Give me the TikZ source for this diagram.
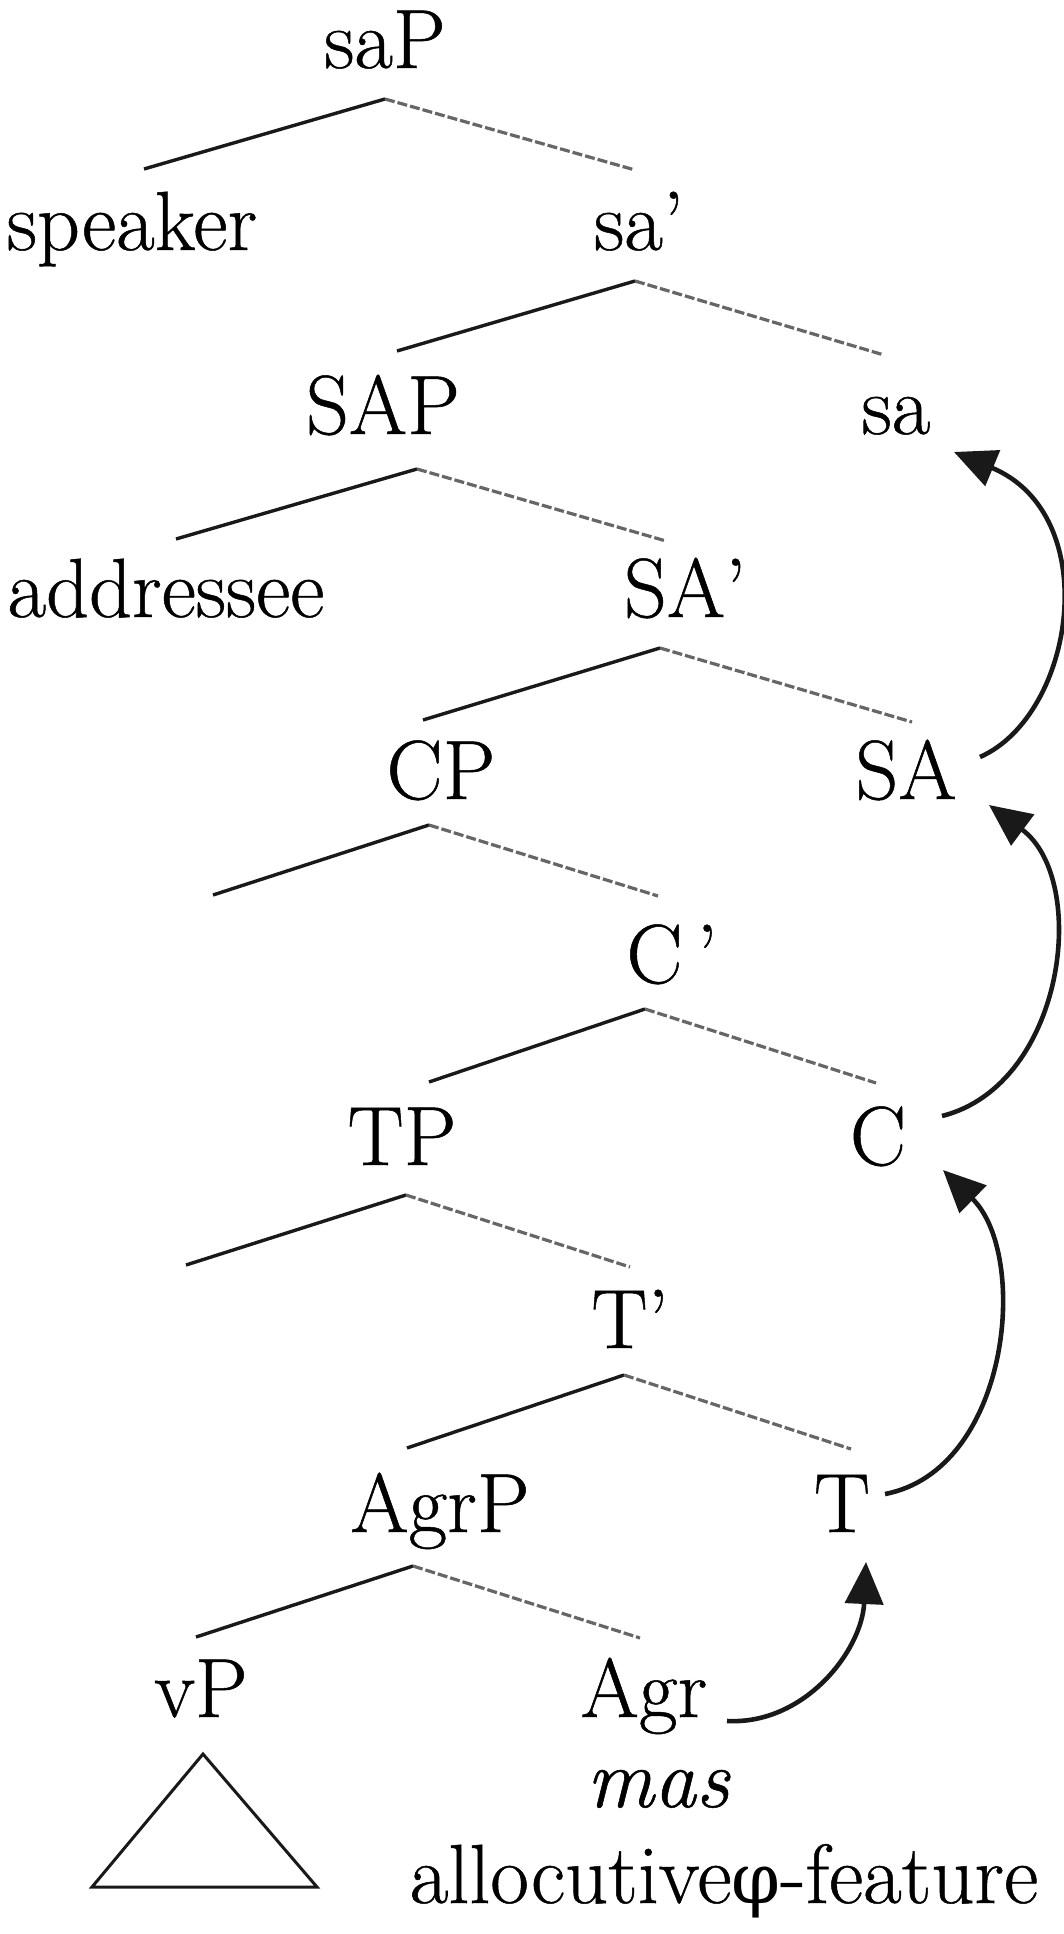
\documentclass[tikz,border=0pt]{standalone}
\usepackage{fontspec}
\setmainfont{Latin Modern Roman}[FakeBold=0.6]
\newfontfamily\grk{DejaVu Serif}
\usetikzlibrary{arrows.meta}
\begin{document}
\begin{tikzpicture}[x=1pt,y=-1pt,
  lbl/.style={anchor=base, inner sep=0pt, font=\fontsize{84}{90}\selectfont},
  branch/.style={line width=3.4pt, black!90},
  headbr/.style={line width=3.2pt, black!60, dash pattern=on 10pt off 3pt},
  mv/.style={line width=4.6pt, black!90, -{Triangle[length=42pt,width=38pt]}},
  tri/.style={line width=3pt, black!90}]
\useasboundingbox (0,0) rectangle (1063,1934);
% labels
\node[lbl] (saP) at (385,68) {saP};
\node[lbl] (speaker) at (132,250) {speaker};
\node[lbl] (sabar) at (639,250) {sa’};
\node[lbl] (SAP) at (383,434) {SAP};
\node[lbl] (sa) at (896,434) {sa};
\node[lbl] (addressee) at (166,617) {addressee};
\node[lbl] (SAbar) at (685,617) {SA’};
\node[lbl] (CP) at (441,799) {CP};
\node[lbl] (SA) at (906,799) {SA};
\node[lbl] (Cbar) at (672,983) {C\,’};
\node[lbl] (TP) at (402,1165) {TP};
\node[lbl] (C) at (878,1165) {C};
\node[lbl] (Tbar) at (630,1348) {T’};
\node[lbl] (AgrP) at (440,1532) {AgrP};
\node[lbl] (T) at (842,1532) {T};
\node[lbl] (vP) at (201,1717) {vP};
\node[lbl] (Agr) at (644,1717) {Agr};
\node[lbl] (mas) at (658,1807) {\itshape mas};
\node[lbl] (feat) at (724,1903) {allocutive{\grk\fontsize{70}{80}\selectfont φ}-feature};
% branch points
\coordinate (a1) at (385,99);  \coordinate (l1) at (144,169); \coordinate (r1) at (635,170);
\coordinate (a2) at (635,281); \coordinate (l2) at (397,351); \coordinate (r2) at (884,355);
\coordinate (a3) at (417,469); \coordinate (l3) at (176,539); \coordinate (r3) at (666,541);
\coordinate (a4) at (660,648); \coordinate (l4) at (423,720); \coordinate (r4) at (912,722);
\coordinate (a5) at (429,825); \coordinate (l5) at (213,895); \coordinate (r5) at (658,896);
\coordinate (a6) at (645,1009); \coordinate (l6) at (429,1082); \coordinate (r6) at (876,1083);
\coordinate (a7) at (406,1195); \coordinate (l7) at (186,1265); \coordinate (r7) at (630,1267);
\coordinate (a8) at (624,1375); \coordinate (l8) at (407,1448); \coordinate (r8) at (851,1449);
\coordinate (a9) at (413,1566); \coordinate (l9) at (196,1637); \coordinate (r9) at (640,1638);
\foreach \i in {1,...,9}{
  \draw[branch] (a\i) -- (l\i);
  \draw[headbr] (a\i) -- (r\i);
}
% triangle under vP
\coordinate (t1) at (203,1754);
\coordinate (t2) at (92,1887);
\coordinate (t3) at (317,1887);
\draw[tri, line join=miter] (t1) -- (t2) -- (t3) -- cycle;
% movement arrows
\coordinate (m1s) at (980,757);  \coordinate (m1e) at (954,452);
\coordinate (m2s) at (942,1116); \coordinate (m2e) at (989,805);
\coordinate (m3s) at (885,1494); \coordinate (m3e) at (943,1170);
\coordinate (m4s) at (727,1721); \coordinate (m4e) at (866,1562);
\draw[mv] (m1s) .. controls (1075,715) and (1105,515) .. (m1e);
\draw[mv] (m2s) .. controls (1065,1085) and (1090,880) .. (m2e);
\draw[mv] (m3s) .. controls (1010,1470) and (1030,1255) .. (m3e);
\draw[mv] (m4s) .. controls (805,1725) and (862,1650) .. (m4e);
\end{tikzpicture}
\end{document}
